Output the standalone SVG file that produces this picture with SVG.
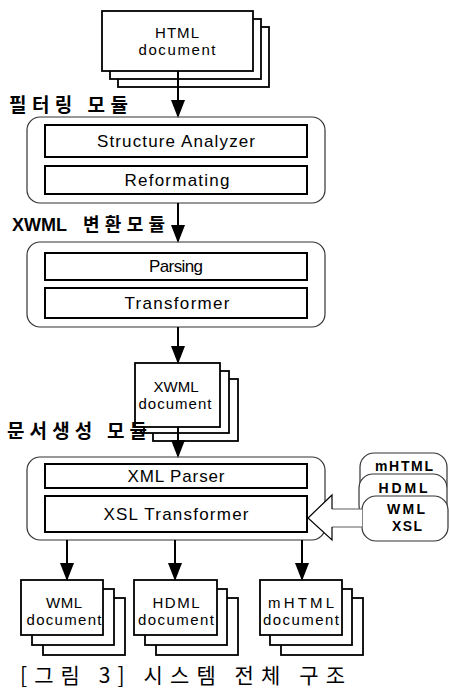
<svg xmlns="http://www.w3.org/2000/svg" width="450" height="688" viewBox="0 0 450 688">
<style>
.mod{fill:#fff;stroke:#333;stroke-width:1.2}
.box{fill:#fff;stroke:#000;stroke-width:2}
.sheet{fill:#fff;stroke:#000;stroke-width:1.8}
.t{font-family:"Liberation Sans",Arial,sans-serif;font-size:17px;fill:#000;text-anchor:middle}
.d{font-family:"Liberation Sans",Arial,sans-serif;font-size:15px;fill:#000;text-anchor:middle}
.k{font-family:"Noto Sans CJK KR",sans-serif;font-size:19px;font-weight:bold;fill:#000}
.kb{font-family:"Liberation Sans","Noto Sans CJK KR",sans-serif;font-size:18px;font-weight:bold;fill:#000}
.s{font-family:"Liberation Sans",Arial,sans-serif;font-size:14px;font-weight:bold;fill:#000;text-anchor:middle}
.cap{font-family:"Noto Sans CJK KR",sans-serif;font-size:21px;fill:#000}
.ln{stroke:#000;stroke-width:2;fill:none}
</style>
<defs>
<marker id="ah" markerUnits="userSpaceOnUse" markerWidth="18" markerHeight="14" refX="16" refY="7" orient="auto" viewBox="0 0 18 14">
<path d="M0,0 L18,7 L0,14 Z" fill="#000"/>
</marker>
</defs>

<g id="html-doc">
<rect class="sheet" x="118" y="27" width="151" height="60"/>
<rect class="sheet" x="110" y="19" width="151" height="60"/>
<rect class="sheet" x="102" y="11" width="151" height="60"/>
<text class="d" x="177" y="38" textLength="44" lengthAdjust="spacing">HTML</text>
<text class="d" x="177" y="55" textLength="77" lengthAdjust="spacing">document</text>
</g>

<g id="filter-module">
<text class="k" x="9" y="112" textLength="119" lengthAdjust="spacing">필터링 모듈</text>
<rect class="mod" x="27" y="117" width="298" height="86" rx="13"/>
<rect class="box" x="45" y="125" width="262" height="32"/>
<text class="t" x="176" y="147" textLength="158" lengthAdjust="spacing">Structure Analyzer</text>
<rect class="box" x="45" y="166" width="262" height="28"/>
<text class="t" x="177" y="186" textLength="105" lengthAdjust="spacing">Reformating</text>
</g>

<g id="xwml-module">
<text class="kb" x="12" y="231"><tspan textLength="55" lengthAdjust="spacing">XWML</tspan><tspan x="83" textLength="82" lengthAdjust="spacing" style="font-family:'Noto Sans CJK KR',sans-serif">변환모듈</tspan></text>
<rect class="mod" x="27" y="242" width="298" height="85" rx="13"/>
<rect class="box" x="45" y="253" width="262" height="27"/>
<text class="t" x="176" y="272" textLength="54" lengthAdjust="spacing">Parsing</text>
<rect class="box" x="45" y="288" width="262" height="30"/>
<text class="t" x="177" y="309" textLength="105" lengthAdjust="spacing">Transformer</text>
</g>

<g id="xwml-doc">
<rect class="sheet" x="153" y="379" width="85" height="62"/>
<rect class="sheet" x="144" y="371" width="85" height="62"/>
<rect class="sheet" x="135" y="363" width="85" height="64"/>
<text class="d" x="176" y="392" textLength="45" lengthAdjust="spacing">XWML</text>
<text class="d" x="175" y="409" textLength="73" lengthAdjust="spacing">document</text>
</g>

<g id="docgen-module">
<text class="k" x="7" y="438" textLength="140" lengthAdjust="spacing">문서생성 모듈</text>
<rect class="mod" x="27" y="457" width="298" height="83" rx="13"/>
<rect class="box" x="45" y="464" width="262" height="24"/>
<text class="t" x="176" y="482" textLength="97" lengthAdjust="spacing">XML Parser</text>
<rect class="box" x="45" y="496" width="262" height="36"/>
<text class="t" x="176" y="520" textLength="145" lengthAdjust="spacing">XSL Transformer</text>
</g>

<g id="xsl-stack">
<rect class="mod" x="360" y="453" width="87" height="45" rx="14"/>
<text class="s" x="404" y="471" textLength="58" lengthAdjust="spacing">mHTML</text>
<rect class="mod" x="359" y="474" width="88" height="45" rx="14"/>
<text class="s" x="403" y="493" textLength="49" lengthAdjust="spacing">HDML</text>
<rect class="mod" x="362" y="496" width="86" height="45" rx="14"/>
<text class="s" x="406" y="514" textLength="38" lengthAdjust="spacing">WML</text>
<text class="s" x="407" y="531" textLength="30" lengthAdjust="spacing">XSL</text>
</g>

<g id="wml-doc">
<rect class="sheet" x="43" y="598" width="82" height="57"/>
<rect class="sheet" x="32" y="589" width="82" height="56"/>
<rect class="sheet" x="21" y="580" width="82" height="55"/>
<text class="d" x="64" y="608" textLength="36" lengthAdjust="spacing">WML</text>
<text class="d" x="64" y="625" textLength="75" lengthAdjust="spacing">document</text>
</g>

<g id="hdml-doc">
<rect class="sheet" x="156" y="598" width="82" height="57"/>
<rect class="sheet" x="145" y="589" width="82" height="56"/>
<rect class="sheet" x="134" y="580" width="83" height="55"/>
<text class="d" x="176" y="608" textLength="47" lengthAdjust="spacing">HDML</text>
<text class="d" x="176" y="625" textLength="76" lengthAdjust="spacing">document</text>
</g>

<g id="mhtml-doc">
<rect class="sheet" x="281" y="598" width="82" height="57"/>
<rect class="sheet" x="270" y="589" width="82" height="56"/>
<rect class="sheet" x="260" y="580" width="82" height="55"/>
<text class="d" x="301" y="608" textLength="66" lengthAdjust="spacing">mHTML</text>
<text class="d" x="301" y="625" textLength="76" lengthAdjust="spacing">document</text>
</g>

<g id="connectors">
<line class="ln" x1="178" y1="71" x2="178" y2="116" marker-end="url(#ah)"/>
<line class="ln" x1="178" y1="203" x2="178" y2="241" marker-end="url(#ah)"/>
<line class="ln" x1="178" y1="327" x2="178" y2="362" marker-end="url(#ah)"/>
<line class="ln" x1="178" y1="427" x2="178" y2="456" marker-end="url(#ah)"/>
<line class="ln" x1="67" y1="540" x2="67" y2="579" marker-end="url(#ah)"/>
<line class="ln" x1="175" y1="540" x2="175" y2="579" marker-end="url(#ah)"/>
<line class="ln" x1="302" y1="540" x2="302" y2="579" marker-end="url(#ah)"/>
<polygon points="362,509 332,509 332,495 308,518 332,540 332,527 362,527" fill="#fff" stroke="none"/>
<polyline points="362,509 332,509" stroke="#777" stroke-width="1.2" fill="none"/>
<polyline points="362,527 332,527" stroke="#777" stroke-width="1.2" fill="none"/>
<polyline points="332,509 332,495 308,518 332,540 332,527" stroke="#000" stroke-width="1.2" fill="none"/>
</g>

<text class="cap" x="20" y="683" textLength="325" lengthAdjust="spacing">[그림 3] 시스템 전체 구조</text>
</svg>
